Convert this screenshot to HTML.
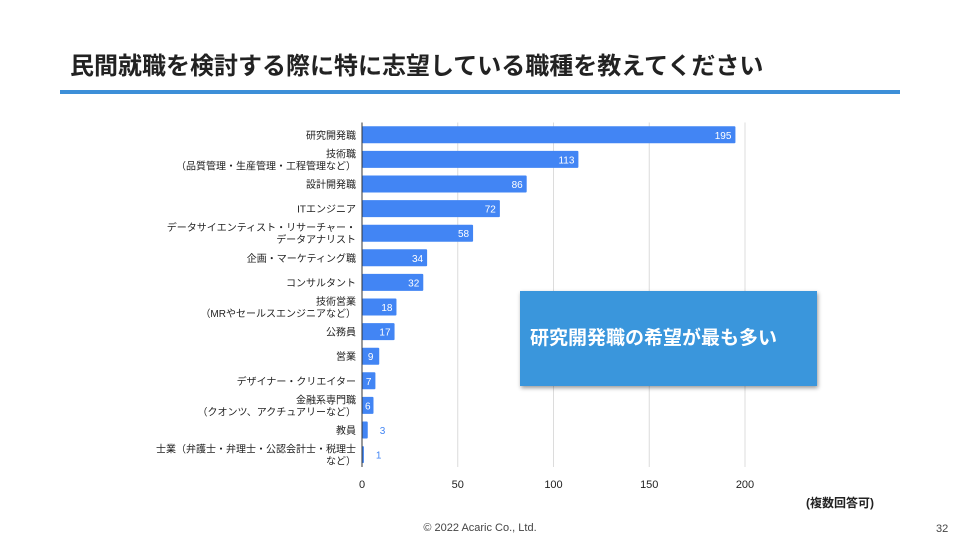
<!DOCTYPE html>
<html><head><meta charset="utf-8">
<style>
body{margin:0;width:960px;height:540px;background:#fff;font-family:"Liberation Sans","Noto Sans CJK JP",sans-serif;position:relative;overflow:hidden}
.t{position:absolute}
</style></head><body>
<div class="t" style="left:70px;top:46px;font-size:24px;font-weight:bold;color:#222">民間就職を検討する際に特に志望している職種を教えてください</div>
<div class="t" style="left:60px;top:90px;width:840px;height:4px;background:#3d8fd8"></div>
<svg id="chart" class="t" style="left:0;top:0" width="960" height="540"></svg>
<div class="t" style="left:520px;top:291px;width:297px;height:95px;background:#3a96dc;box-shadow:1px 2px 4px rgba(0,0,0,.4)"><div style="position:absolute;left:10px;top:32px;color:#fff;font-size:19px;font-weight:bold">研究開発職の希望が最も多い</div></div>
<div class="t" style="left:806px;top:494px;font-size:12px;font-weight:bold;color:#222">(複数回答可)</div>
<div class="t" style="left:0;width:960px;text-align:center;top:522px;font-size:11px;color:#444">© 2022 Acaric Co., Ltd.</div>
<div class="t" style="left:936px;top:523px;font-size:11px;color:#444">32</div>
<script>
const categories=[["研究開発職"],["技術職","（品質管理・生産管理・工程管理など）"],["設計開発職"],["ITエンジニア"],["データサイエンティスト・リサーチャー・","データアナリスト"],["企画・マーケティング職"],["コンサルタント"],["技術営業","（MRやセールスエンジニアなど）"],["公務員"],["営業"],["デザイナー・クリエイター"],["金融系専門職","（クオンツ、アクチュアリーなど）"],["教員"],["士業（弁護士・弁理士・公認会計士・税理士","など）"]];
const values=[195,113,86,72,58,34,32,18,17,9,7,6,3,1];
const ticks=[0,50,100,150,200];
const NS="http://www.w3.org/2000/svg",svg=document.getElementById('chart');
const x0=362,x1=745,yTop=122.5,step=24.6,bh=17;
const xs=v=>x0+(x1-x0)*v/200;
const yc=i=>yTop+step*(i+0.5);
function mk(tag,a,txt){const e=document.createElementNS(NS,tag);for(const k in a)e.setAttribute(k,a[k]);if(txt!=null)e.textContent=txt;svg.appendChild(e);return e;}
ticks.forEach(t=>{
 if(t>0){const g=mk('line',{x1:xs(t),x2:xs(t),y1:yTop,y2:467,stroke:'#dcdcdc','stroke-width':1});
 
 }
 const l=mk('text',{x:xs(t),y:488,'text-anchor':'middle','font-size':11,fill:'#222'},t);
 
 
});
values.forEach((v,i)=>{
 const y=yc(i);
 const b=mk('rect',{x:x0,y:y-bh/2,width:xs(v)-x0,height:bh,fill:'#4285f4',rx:1});
 
 
 const inside=xs(v)-x0>10;
 const big=xs(v)-x0>25;
 const vl=mk('text',{x:inside?(big?xs(v)-4:x0+(xs(v)-x0)/2):xs(v)+12,y:y+4,'text-anchor':inside?(big?'end':'middle'):'start','font-size':10,fill:inside?'#fff':'#4285f4'},v);
 
 
 const lines=categories[i];
 lines.forEach((s,j)=>{
  const ty=y+4+(j-(lines.length-1)/2)*12;
  const cl=mk('text',{x:356,y:ty,'text-anchor':'end','font-size':10,fill:'#222'},s);
  
  
 });
});
const ax=mk('line',{x1:x0,x2:x0,y1:yTop,y2:467,stroke:'#333','stroke-width':1});


</script>
</body></html>
